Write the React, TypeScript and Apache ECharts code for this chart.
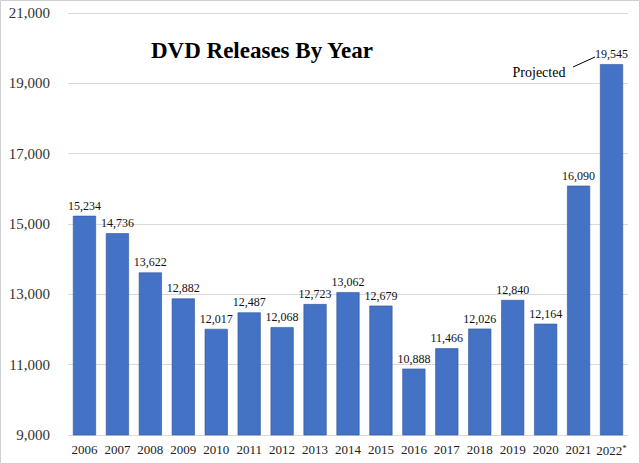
import React, { useEffect, useRef } from "react";
import * as echarts from "echarts";

const categories = ["2006","2007","2008","2009","2010","2011","2012","2013","2014","2015","2016","2017","2018","2019","2020","2021","2022*"];
const releases = [15234,14736,13622,12882,12017,12487,12068,12723,13062,12679,10888,11466,12026,12840,12164,16090,19545];
const title = "DVD Releases By Year";
const note = "Projected";

export default function App() {
  const ref = useRef<HTMLDivElement>(null);
  useEffect(() => {
    const chart = echarts.init(ref.current!, null, { renderer: "svg" });
    const serif = "'Liberation Serif', 'DejaVu Serif', serif";
    chart.setOption({
      animation: false,
      backgroundColor: "#fff",
      grid: { left: 68, right: 12, top: 13, bottom: 29 },
      xAxis: {
        type: "category",
        data: categories,
        axisTick: { show: false },
        axisLine: { lineStyle: { color: "#d9d9d9" } },
        axisLabel: {
          color: "#222",
          fontFamily: serif,
          fontSize: 13,
          margin: 8,
          interval: 0,
          formatter: (v: string) =>
            v.endsWith("*") ? `${v.slice(0, -1)}{sup|*}` : v,
          rich: {
            sup: { fontFamily: serif, fontSize: 9, color: "#222", verticalAlign: "top", padding: [0, 0, 6, 0] },
          },
        },
      },
      yAxis: {
        type: "value",
        min: 9000,
        max: 21000,
        interval: 2000,
        splitLine: { lineStyle: { color: "#d9d9d9" } },
        axisLabel: {
          color: "#333",
          fontFamily: serif,
          fontSize: 15,
          margin: 18,
          formatter: (v: number) => v.toLocaleString("en-US"),
        },
      },
      series: [
        {
          type: "bar",
          data: releases,
          barWidth: "70%",
          itemStyle: { color: "#4472C4", borderColor: "#2F5597", borderWidth: 0.6 },
          label: {
            show: true,
            position: "top",
            distance: 4,
            color: "#111",
            fontFamily: serif,
            fontSize: 12,
            formatter: (p: any) => Number(p.value).toLocaleString("en-US"),
          },
        },
      ],
      graphic: [
        {
          type: "rect",
          shape: { x: 0.5, y: 0.5, width: 639, height: 463 },
          style: { fill: "none", stroke: "#d0d0d0", lineWidth: 1 },
          silent: true,
        },
        {
          type: "text",
          x: 262,
          y: 50,
          style: {
            text: title,
            fill: "#000",
            font: `bold 23px ${serif}`,
            textAlign: "center",
            textVerticalAlign: "middle",
          },
        },
        {
          type: "text",
          x: 539,
          y: 72,
          style: {
            text: note,
            fill: "#000",
            font: `14px ${serif}`,
            textAlign: "center",
            textVerticalAlign: "middle",
          },
        },
        {
          type: "line",
          shape: { x1: 573, y1: 67, x2: 595, y2: 57 },
          style: { stroke: "#000", lineWidth: 1 },
        },
      ],
    });
    return () => chart.dispose();
  }, []);
  return (
    <div
      ref={ref}
      style={{ position: "fixed", left: 0, top: 0, width: 640, height: 464 }}
    />
  );
}
